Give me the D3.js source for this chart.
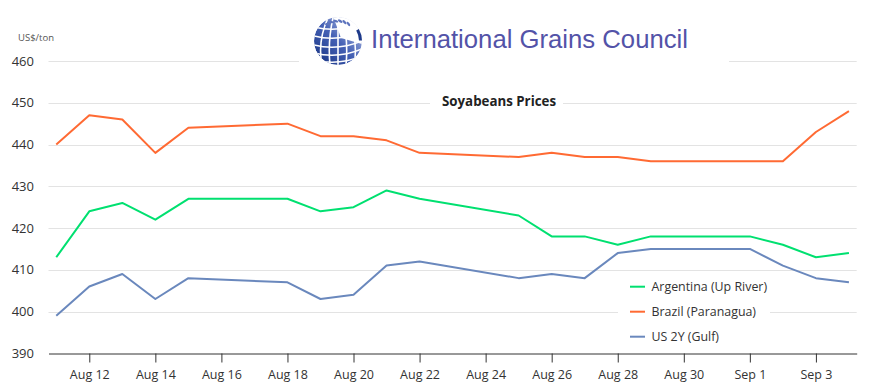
<!DOCTYPE html>
<html>
<head>
<meta charset="utf-8">
<script src="https://cdn.jsdelivr.net/npm/d3@7"></script>
<style>
  html, body { margin: 0; padding: 0; background: #fff; }
  svg { display: block; }
</style>
</head>
<body>
<svg id="chart" width="876" height="390"></svg>
<script>
// ---------- data ----------
const dates = ["2014-08-11","2014-08-12","2014-08-13","2014-08-14","2014-08-15",
  "2014-08-18","2014-08-19","2014-08-20","2014-08-21","2014-08-22",
  "2014-08-25","2014-08-26","2014-08-27","2014-08-28","2014-08-29",
  "2014-09-01","2014-09-02","2014-09-03","2014-09-04"];
const argentina = [413,424,426,422,427, 427,424,425,429,427, 423,418,418,416,418, 418,416,413,414];
const brazil    = [440,447,446,438,444, 445,442,442,441,438, 437,438,437,437,436, 436,436,443,448];
const usGulf    = [399,406,409,403,408, 407,403,404,411,412, 408,409,408,414,415, 415,411,408,407];
const seriesNames = ["Argentina (Up River)", "Brazil (Paranagua)", "US 2Y (Gulf)"];
const seriesColors = ["#00e070", "#ff6a33", "#6a88bd"];
const xTickDates = ["2014-08-12","2014-08-14","2014-08-16","2014-08-18","2014-08-20",
  "2014-08-22","2014-08-24","2014-08-26","2014-08-28","2014-08-30","2014-09-01","2014-09-03"];
const yTicks = [390,400,410,420,430,440,450,460];
const chartTitle = "Soyabeans Prices";
const unitLabel = "US$/ton";
const logoText = "International Grains Council";

// ---------- setup ----------
const svg = d3.select("#chart");
const parse = d3.utcParse("%Y-%m-%d");
const dayMs = 864e5;
const pad = 0.235 * dayMs;
const d0 = parse(dates[0]), d1 = parse(dates[dates.length - 1]);
const x = d3.scaleUtc().domain([new Date(+d0 - pad), new Date(+d1 + pad)]).range([48.5, 856.7]);
const y = d3.scaleLinear().domain([390, 460]).range([353.3, 61]);

// gridlines
const grid = svg.append("g");
grid.selectAll("line").data(yTicks.slice(1)).join("line")
  .attr("x1", 48.5).attr("x2", 856.7)
  .attr("y1", d => Math.round(y(d)) + 0.5).attr("y2", d => Math.round(y(d)) + 0.5)
  .attr("stroke", "#e3e3e3").attr("stroke-width", 1);

// y labels
svg.append("g").selectAll("text").data(yTicks).join("text")
  .attr("x", 34).attr("y", d => y(d) + 4.5)
  .attr("text-anchor", "end")
  .attr("font-family", "'Open Sans', 'Noto Sans', sans-serif")
  .attr("font-size", 13).attr("fill", "#333")
  .text(d => d);

svg.append("text").attr("x", 18).attr("y", 41)
  .attr("font-family", "'Open Sans', 'Noto Sans', sans-serif")
  .attr("font-size", 9.5).attr("fill", "#555").text(unitLabel);

// x axis
const xAxis = d3.axisBottom(x)
  .tickValues(xTickDates.map(parse))
  .tickFormat(d => d3.utcFormat("%b %-d")(d))
  .tickSize(9).tickPadding(8).tickSizeOuter(0);
const gx = svg.append("g").attr("transform", "translate(0,353.5)").call(xAxis);
gx.select(".domain").attr("stroke", "#333").attr("stroke-width", 1);
gx.selectAll(".tick line").attr("stroke", "#333");
gx.selectAll(".tick text").attr("fill", "#333")
  .attr("font-family", "'Open Sans', 'Noto Sans', sans-serif").attr("font-size", 12.5);

// white cover boxes (logo, title, legend backgrounds) over gridlines
svg.append("rect").attr("x", 299).attr("y", 8).attr("width", 430).attr("height", 60).attr("fill", "#fff");
svg.append("rect").attr("x", 430).attr("y", 90).attr("width", 133).attr("height", 22).attr("fill", "#fff");
svg.append("rect").attr("x", 618).attr("y", 274).attr("width", 152).attr("height", 76).attr("fill", "#fff");

// lines
const allSeries = [argentina, brazil, usGulf];
const line = d3.line().x((d, i) => x(parse(dates[i]))).y(d => y(d));
svg.append("g").selectAll("path").data(allSeries).join("path")
  .attr("d", d => line(d))
  .attr("fill", "none")
  .attr("stroke", (d, i) => seriesColors[i])
  .attr("stroke-width", 2)
  .attr("stroke-linejoin", "round");

// title
svg.append("text").attr("x", 499).attr("y", 106).attr("text-anchor", "middle")
  .attr("font-family", "'Open Sans', 'Noto Sans', sans-serif")
  .attr("font-weight", "bold").attr("font-size", 13.3).attr("fill", "#222")
  .text(chartTitle);

// legend
const lg = svg.append("g").selectAll("g").data(seriesNames).join("g")
  .attr("transform", (d, i) => `translate(630,${286.7 + i * 25})`);
lg.append("line").attr("x1", 0).attr("x2", 15).attr("y1", 0).attr("y2", 0)
  .attr("stroke", (d, i) => seriesColors[i]).attr("stroke-width", 2);
lg.append("text").attr("x", 21.5).attr("y", 4.5)
  .attr("font-family", "'Open Sans', 'Noto Sans', sans-serif")
  .attr("font-size", 12.4).attr("fill", "#333").text(d => d);

// ---------- logo ----------
const defs = svg.append("defs");
const grad = defs.append("linearGradient").attr("id", "globeGrad")
  .attr("x1", "0%").attr("y1", "100%").attr("x2", "100%").attr("y2", "0%");
grad.append("stop").attr("offset", "0%").attr("stop-color", "#14307f");
grad.append("stop").attr("offset", "50%").attr("stop-color", "#4561b5");
grad.append("stop").attr("offset", "100%").attr("stop-color", "#d0d7f0");
const cx = 338, cy = 41, r = 24;
defs.append("clipPath").attr("id", "globeClip").append("circle").attr("cx", cx).attr("cy", cy).attr("r", r);
const logo = svg.append("g");
const gl = logo.append("g").attr("clip-path", "url(#globeClip)");
gl.append("circle").attr("cx", cx).attr("cy", cy).attr("r", r).attr("fill", "url(#globeGrad)");
// latitude lines
[-14, -5, 4, 12, 19].forEach(dy => {
  gl.append("path")
    .attr("d", `M${cx - r},${cy + dy} Q${cx},${cy + dy + 6} ${cx + r},${cy + dy - 4}`)
    .attr("fill", "none").attr("stroke", "#fff").attr("stroke-width", 1.6);
});
// longitude lines
[-16, -8, 0, 8, 16].forEach(dx => {
  gl.append("path")
    .attr("d", `M${cx + dx * 0.6},${cy - r} Q${cx + dx * 1.3},${cy} ${cx + dx},${cy + r}`)
    .attr("fill", "none").attr("stroke", "#fff").attr("stroke-width", 1.6);
});
// open upper-right area
const wedge = d3.arc().innerRadius(0).outerRadius(r + 2).startAngle(-0.35).endAngle(1.85);
gl.append("path").attr("transform", `translate(${cx + 3},${cy - 3})`).attr("d", wedge()).attr("fill", "#fff");
// ring fragment on the right
const frag = d3.arc().innerRadius(r - 3).outerRadius(r).startAngle(1.05).endAngle(1.55);
logo.append("path").attr("transform", `translate(${cx},${cy})`).attr("d", frag()).attr("fill", "#1e3a8a");
// wheat ear on top
[0, 1, 2, 3, 4, 5].forEach(k => {
  const a = -0.55 + k * 0.22;
  const px = cx + Math.sin(a) * (r - 4), py = cy - Math.cos(a) * (r - 4);
  logo.append("ellipse").attr("cx", px).attr("cy", py).attr("rx", 2.6).attr("ry", 1.2)
    .attr("transform", `rotate(${a * 57.3 + 25},${px},${py})`).attr("fill", "#5d74bd");
});
logo.append("text").attr("x", 371).attr("y", 47.5)
  .attr("font-family", "'Liberation Sans', Arial, sans-serif")
  .attr("font-size", 25.7).attr("fill", "#5353a8").text(logoText);
</script>
</body>
</html>
